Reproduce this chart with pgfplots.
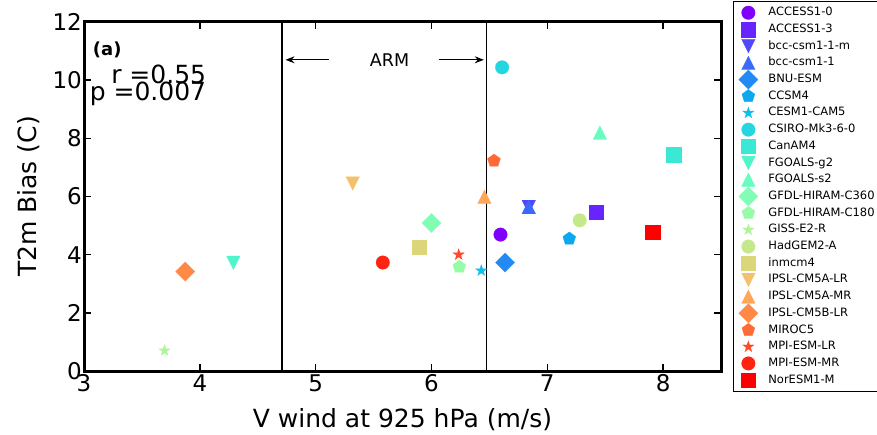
\documentclass[border=0pt]{standalone}
\usepackage{pgfplots}
\pgfplotsset{compat=1.18}
\usepackage{fontspec}
\setmainfont{DejaVu Sans}
\usetikzlibrary{arrows.meta,plotmarks}

\definecolor{c0}{rgb}{0.500,0.000,1.000}
\definecolor{c1}{rgb}{0.409,0.142,0.998}
\definecolor{c2}{rgb}{0.318,0.282,0.990}
\definecolor{c3}{rgb}{0.227,0.415,0.977}
\definecolor{c4}{rgb}{0.136,0.541,0.960}
\definecolor{c5}{rgb}{0.045,0.655,0.937}
\definecolor{c6}{rgb}{0.045,0.756,0.910}
\definecolor{c7}{rgb}{0.136,0.841,0.878}
\definecolor{c8}{rgb}{0.227,0.910,0.841}
\definecolor{c9}{rgb}{0.318,0.960,0.801}
\definecolor{c10}{rgb}{0.409,0.990,0.756}
\definecolor{c11}{rgb}{0.500,1.000,0.707}
\definecolor{c12}{rgb}{0.591,0.990,0.655}
\definecolor{c13}{rgb}{0.682,0.960,0.598}
\definecolor{c14}{rgb}{0.773,0.910,0.541}
\definecolor{c15}{rgb}{0.864,0.841,0.480}
\definecolor{c16}{rgb}{0.955,0.756,0.415}
\definecolor{c17}{rgb}{1.000,0.655,0.350}
\definecolor{c18}{rgb}{1.000,0.541,0.282}
\definecolor{c19}{rgb}{1.000,0.415,0.213}
\definecolor{c20}{rgb}{1.000,0.282,0.142}
\definecolor{c21}{rgb}{1.000,0.142,0.071}
\definecolor{c22}{rgb}{1.000,0.000,0.000}

\pgfdeclareplotmark{mtri}{%
  \pgfpathmoveto{\pgfqpoint{0pt}{\pgfplotmarksize}}%
  \pgfpathlineto{\pgfqpoint{-\pgfplotmarksize}{-\pgfplotmarksize}}%
  \pgfpathlineto{\pgfqpoint{\pgfplotmarksize}{-\pgfplotmarksize}}%
  \pgfpathclose\pgfusepathqfillstroke}
\pgfdeclareplotmark{mtrid}{%
  \pgfpathmoveto{\pgfqpoint{0pt}{-\pgfplotmarksize}}%
  \pgfpathlineto{\pgfqpoint{-\pgfplotmarksize}{\pgfplotmarksize}}%
  \pgfpathlineto{\pgfqpoint{\pgfplotmarksize}{\pgfplotmarksize}}%
  \pgfpathclose\pgfusepathqfillstroke}
\pgfdeclareplotmark{mdiam}{%
  \pgfpathmoveto{\pgfqpoint{0pt}{\pgfplotmarksize}}%
  \pgfpathlineto{\pgfqpoint{\pgfplotmarksize}{0pt}}%
  \pgfpathlineto{\pgfqpoint{0pt}{-\pgfplotmarksize}}%
  \pgfpathlineto{\pgfqpoint{-\pgfplotmarksize}{0pt}}%
  \pgfpathclose\pgfusepathqfillstroke}
\pgfdeclareplotmark{mstar}{%
  \pgfpathmoveto{\pgfpointpolar{90}{\pgfplotmarksize}}%
  \pgfpathlineto{\pgfpointpolar{126}{0.382\pgfplotmarksize}}%
  \pgfpathlineto{\pgfpointpolar{162}{\pgfplotmarksize}}%
  \pgfpathlineto{\pgfpointpolar{198}{0.382\pgfplotmarksize}}%
  \pgfpathlineto{\pgfpointpolar{234}{\pgfplotmarksize}}%
  \pgfpathlineto{\pgfpointpolar{270}{0.382\pgfplotmarksize}}%
  \pgfpathlineto{\pgfpointpolar{306}{\pgfplotmarksize}}%
  \pgfpathlineto{\pgfpointpolar{342}{0.382\pgfplotmarksize}}%
  \pgfpathlineto{\pgfpointpolar{18}{\pgfplotmarksize}}%
  \pgfpathlineto{\pgfpointpolar{54}{0.382\pgfplotmarksize}}%
  \pgfpathclose\pgfusepathqfillstroke}

\pgfplotsset{
  mo/.style={only marks, mark=*, mark size=6.8pt, color=#1, mark options={line width=0.2pt}},
  ms/.style={only marks, mark=square*, mark size=7.2pt, color=#1, mark options={line width=0.2pt}},
  mv/.style={only marks, mark=mtrid, mark size=6.8pt, color=#1, mark options={line width=0.2pt}},
  mu/.style={only marks, mark=mtri, mark size=6.8pt, color=#1, mark options={line width=0.2pt}},
  mD/.style={only marks, mark=mdiam, mark size=9.6pt, color=#1, mark options={line width=0.2pt}},
  mp/.style={only marks, mark=pentagon*, mark size=6.8pt, color=#1, mark options={line width=0.2pt}},
  mx/.style={only marks, mark=mstar, mark size=6pt, color=#1, mark options={line width=0.2pt}},
}

\begin{document}
\begin{tikzpicture}
\begin{axis}[
  scale only axis,
  width=637pt, height=349pt,
  xmin=3, xmax=8.5, ymin=0, ymax=12,
  xtick={3,4,5,6,7,8}, ytick={0,2,4,6,8,10,12},
  axis line style={line width=3pt},
  major tick length=7pt,
  tick style={line width=1.5pt, black},
  tick align=inside,
  /pgf/number format/assume math mode=true,
  ticklabel style={font=\fontsize{23}{27}\selectfont},
  yticklabel style={inner xsep=2pt},
  xlabel={V wind at 925 hPa (m/s)},
  ylabel={T2m Bias (C)},
  label style={font=\fontsize{25}{30}\selectfont},
  xlabel style={at={(axis description cs:0.5,-0.1633)}, anchor=base},
  ylabel style={at={(axis description cs:-0.0738,0.5)}, anchor=base, rotate=0},
  legend image code/.code={%
    \path[draw=none, fill=none] (0pt,-3pt) rectangle (22pt,3pt);
    \begin{pgfinterruptboundingbox}
    \draw[mark repeat=2,mark phase=2,#1,only marks] plot coordinates {(0pt,0pt) (11pt,0pt) (22pt,0pt)};
    \end{pgfinterruptboundingbox}
  },
  legend style={
    at={(1.0188,1.0602)}, anchor=north west,
    font=\fontsize{11.5}{13}\selectfont,
    draw=black, line width=0.8pt,
    inner xsep=4pt, inner ysep=3pt,
    column sep=8pt, row sep=0pt,
    nodes={inner xsep=1pt, inner ysep=2.35pt, text height=9pt, text depth=3pt},
  },
  legend cell align=left,
  clip=false,
]
\coordinate (bl) at (rel axis cs:0,0);

\addplot[mo=c0] coordinates {(6.596,4.69)}; \addlegendentry{ACCESS1-0}
\addplot[ms=c1] coordinates {(7.42,5.47)}; \addlegendentry{ACCESS1-3}
\addplot[mv=c2] coordinates {(6.84,5.64)}; \addlegendentry{bcc-csm1-1-m}
\addplot[mu=c3] coordinates {(6.84,5.64)}; \addlegendentry{bcc-csm1-1}
\addplot[mD=c4] coordinates {(6.636,3.73)}; \addlegendentry{BNU-ESM}
\addplot[mp=c5] coordinates {(7.19,4.55)}; \addlegendentry{CCSM4}
\addplot[mx=c6] coordinates {(6.43,3.45)}; \addlegendentry{CESM1-CAM5}
\addplot[mo=c7] coordinates {(6.61,10.44)}; \addlegendentry{CSIRO-Mk3-6-0}
\addplot[ms=c8] coordinates {(8.09,7.44)}; \addlegendentry{CanAM4}
\addplot[mv=c9] coordinates {(4.29,3.72)}; \addlegendentry{FGOALS-g2}
\addplot[mu=c10] coordinates {(7.455,8.2)}; \addlegendentry{FGOALS-s2}
\addplot[mD=c11] coordinates {(6.00,5.09)}; \addlegendentry{GFDL-HIRAM-C360}
\addplot[mp=c12] coordinates {(6.24,3.58)}; \addlegendentry{GFDL-HIRAM-C180}
\addplot[mx=c13] coordinates {(3.695,0.70)}; \addlegendentry{GISS-E2-R}
\addplot[mo=c14] coordinates {(7.28,5.18)}; \addlegendentry{HadGEM2-A}
\addplot[ms=c15] coordinates {(5.895,4.27)}; \addlegendentry{inmcm4}
\addplot[mv=c16] coordinates {(5.32,6.45)}; \addlegendentry{IPSL-CM5A-LR}
\addplot[mu=c17] coordinates {(6.457,5.99)}; \addlegendentry{IPSL-CM5A-MR}
\addplot[mD=c18] coordinates {(3.874,3.42)}; \addlegendentry{IPSL-CM5B-LR}
\addplot[mp=c19] coordinates {(6.54,7.23)}; \addlegendentry{MIROC5}
\addplot[mx=c20] coordinates {(6.235,4.0)}; \addlegendentry{MPI-ESM-LR}
\addplot[mo=c21] coordinates {(5.58,3.73)}; \addlegendentry{MPI-ESM-MR}
\addplot[ms=c22] coordinates {(7.91,4.78)}; \addlegendentry{NorESM1-M}

\addplot[black, line width=1.2pt, forget plot] coordinates {(4.71,0) (4.71,12)};
\addplot[black, line width=1.2pt, forget plot] coordinates {(6.475,0) (6.475,12)};
\draw[-{Stealth[length=9pt,width=7pt]}, line width=1pt] (axis cs:5.115,10.7) -- (axis cs:4.74,10.7);
\draw[-{Stealth[length=9pt,width=7pt]}, line width=1pt] (axis cs:6.062,10.7) -- (axis cs:6.452,10.7);
\node[anchor=base, inner sep=0pt, font=\fontsize{17.5}{20}\selectfont] at (axis cs:5.638,10.46) {ARM};
\node[anchor=base west, inner sep=0pt, font=\bfseries\fontsize{18}{21}\selectfont] at (axis cs:3.075,10.84) {(a)};
\node[anchor=base east, inner sep=0pt, font=\fontsize{25}{30}\selectfont] at (axis cs:4.056,9.9) {r =0.55};
\node[anchor=base east, inner sep=0pt, font=\fontsize{25}{30}\selectfont] at (axis cs:4.056,9.29) {p =0.007};
\end{axis}
\pgfresetboundingbox
\path[use as bounding box] (bl) ++(-84pt,-63pt) rectangle ++(877pt,434pt);
\end{tikzpicture}
\end{document}
